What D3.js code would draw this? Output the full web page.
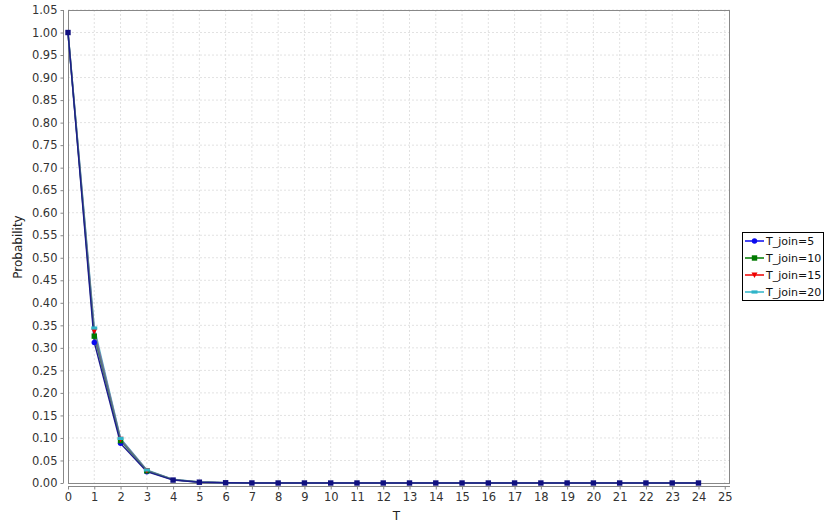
<!DOCTYPE html>
<html><head><meta charset="utf-8">
<script src="https://cdn.jsdelivr.net/npm/d3@7/dist/d3.min.js"></script>
<style>
body{margin:0;background:#fff;}
text{font-family:"DejaVu Sans",sans-serif;}
</style></head>
<body>
<svg id="c" width="826" height="530"></svg>
<script>
const tValues = d3.range(0, 25);
const seriesNames = ["T_join=5", "T_join=10", "T_join=15", "T_join=20"];
const join5  = [1.0, 0.312, 0.088, 0.025, 0.0065, 0.0018, 0.0005, 0.0001, 0, 0, 0, 0, 0, 0, 0, 0, 0, 0, 0, 0, 0, 0, 0, 0, 0];
const join10 = [1.0, 0.326, 0.094, 0.027, 0.0072, 0.0020, 0.0005, 0.0001, 0, 0, 0, 0, 0, 0, 0, 0, 0, 0, 0, 0, 0, 0, 0, 0, 0];
const join15 = [1.0, 0.337, 0.097, 0.028, 0.0077, 0.0021, 0.0006, 0.0001, 0, 0, 0, 0, 0, 0, 0, 0, 0, 0, 0, 0, 0, 0, 0, 0, 0];
const join20 = [1.0, 0.344, 0.099, 0.029, 0.0080, 0.0022, 0.0006, 0.0001, 0, 0, 0, 0, 0, 0, 0, 0, 0, 0, 0, 0, 0, 0, 0, 0, 0];
const xTicks = d3.range(0, 26);
const yTicks = d3.range(0, 22).map(i => +(i * 0.05).toFixed(2));

const seriesValues = [join5, join10, join15, join20];
const lineColors = ["#1c1c8c", "#4a7a70", "#7a6a9a", "#5ab4c8"];
const markColors = ["#0a0aee", "#007a00", "#ee0000", "#2fb4c8"];
const legendLineColors = ["#0a0aee", "#007a00", "#ee0000", "#2fb4c8"];
const shapes = ["circle", "square", "tri", "rect"];

const svg = d3.select("#c");
const L = 68, R = 730, T = 10, B = 483;
const x = d3.scaleLinear().domain([0, 25.2]).range([L, R]);
const y = d3.scaleLinear().domain([0, 1.05]).range([B, T]);

// grid
const g = svg.append("g");
g.selectAll(".gx").data(xTicks.filter(v => v > 0)).enter().append("line")
  .attr("x1", d => x(d)).attr("x2", d => x(d)).attr("y1", T).attr("y2", B)
  .attr("stroke", "#e2e2e2").attr("stroke-width", 1).attr("stroke-dasharray", "2,2");
g.selectAll(".gy").data(yTicks.filter(v => v > 0)).enter().append("line")
  .attr("x1", L).attr("x2", R).attr("y1", d => y(d)).attr("y2", d => y(d))
  .attr("stroke", "#e2e2e2").attr("stroke-width", 1).attr("stroke-dasharray", "2,2");

// plot border
svg.append("rect").attr("x", L + 0.5).attr("y", T + 0.5).attr("width", R - L - 1).attr("height", B - T)
  .attr("fill", "none").attr("stroke", "#888");

// axes
const yAxis = d3.axisLeft(y).tickValues(yTicks).tickFormat(d3.format(".2f")).tickSize(3).tickPadding(3);
const ya = svg.append("g").attr("transform", "translate(63.5,0)").call(yAxis);
const xAxis = d3.axisBottom(x).tickValues(xTicks).tickFormat(d3.format("d")).tickSize(3).tickPadding(3);
const xa = svg.append("g").attr("transform", "translate(0,486.5)").call(xAxis);
[ya, xa].forEach(a => {
  a.select(".domain").attr("stroke", "#888");
  a.selectAll(".tick line").attr("stroke", "#888");
  a.selectAll(".tick text").attr("fill", "#333").style("font-size", "11.5px").style("font-family", "DejaVu Sans, sans-serif");
});
ya.select(".domain").attr("d", `M0,${T}V${B}`);
xa.select(".domain").attr("d", `M${L},0H${R}`);

svg.append("text").attr("x", x(12.5)).attr("y", 520).attr("text-anchor", "middle")
  .style("font-size", "12px").attr("fill", "#222").text("T");
svg.append("text").attr("transform", "translate(22,247) rotate(-90)").attr("text-anchor", "middle")
  .style("font-size", "12px").attr("fill", "#222").text("Probability");

function drawMarker(sel, shape, color, cx, cy) {
  if (shape === "circle") sel.append("circle").attr("cx", cx).attr("cy", cy).attr("r", 2.7).attr("fill", color);
  else if (shape === "square") sel.append("rect").attr("x", cx - 2.7).attr("y", cy - 2.7).attr("width", 5.4).attr("height", 5.4).attr("fill", color);
  else if (shape === "tri") sel.append("path").attr("d", `M${cx - 3},${cy - 2.5}L${cx + 3},${cy - 2.5}L${cx},${cy + 3}Z`).attr("fill", color);
  else sel.append("rect").attr("x", cx - 3).attr("y", cy - 1.6).attr("width", 6).attr("height", 3.2).attr("fill", color);
}

// series lines, then markers; T_join=5 on top
const line = d3.line().x((d, i) => x(tValues[i])).y(d => y(d));
[3, 2, 1, 0].forEach(s => {
  svg.append("path").datum(seriesValues[s]).attr("d", line).attr("fill", "none")
    .attr("stroke", lineColors[s]).attr("stroke-width", s === 0 ? 1.4 : 1.6);
});
[0, 1, 2, 3].forEach(s => {
  const gs = svg.append("g");
  seriesValues[s].forEach((v, i) => {
    if (i === 0 || i >= 4) return;
    drawMarker(gs, shapes[s], markColors[s], x(tValues[i]), y(v));
  });
});
// overlapping markers where all series coincide
const gm = svg.append("g");
join5.forEach((v, i) => {
  if (i === 0 || i >= 4) drawMarker(gm, "square", "#101080", x(tValues[i]), y(v));
});

// legend
const lg = svg.append("g");
lg.append("rect").attr("x", 742.5).attr("y", 232.5).attr("width", 81).attr("height", 68)
  .attr("fill", "#fff").attr("stroke", "#000");
seriesNames.forEach((n, i) => {
  const cy = 241 + i * 17;
  lg.append("line").attr("x1", 745).attr("x2", 764).attr("y1", cy).attr("y2", cy)
    .attr("stroke", legendLineColors[i]).attr("stroke-width", 1.5);
  drawMarker(lg, shapes[i], markColors[i], 754.5, cy);
  lg.append("text").attr("x", 766).attr("y", cy + 4).style("font-size", "11px").attr("fill", "#111").text(n);
});
</script>
</body></html>
